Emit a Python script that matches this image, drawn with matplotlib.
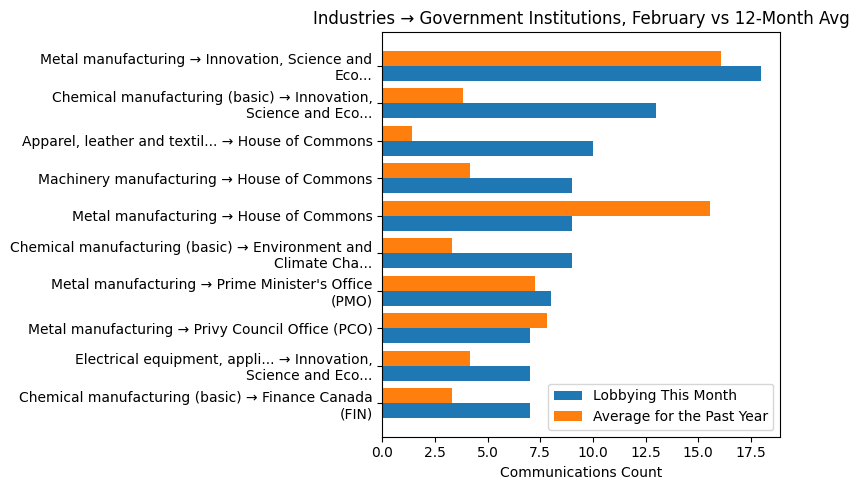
import numpy as np
import matplotlib
matplotlib.use("Agg")
import matplotlib.pyplot as plt

labels = [
    "Metal manufacturing \u2192 Innovation, Science and\nEco...",
    "Chemical manufacturing (basic) \u2192 Innovation,\nScience and Eco...",
    "Apparel, leather and textil... \u2192 House of Commons",
    "Machinery manufacturing \u2192 House of Commons",
    "Metal manufacturing \u2192 House of Commons",
    "Chemical manufacturing (basic) \u2192 Environment and\nClimate Cha...",
    "Metal manufacturing \u2192 Prime Minister's Office\n(PMO)",
    "Metal manufacturing \u2192 Privy Council Office (PCO)",
    "Electrical equipment, appli... \u2192 Innovation,\nScience and Eco...",
    "Chemical manufacturing (basic) \u2192 Finance Canada\n(FIN)",
]
this_month = [18, 13, 10, 9, 9, 9, 8, 7, 7, 7]
past_year_avg = [16.08, 3.83, 1.42, 4.17, 15.58, 3.33, 7.25, 7.83, 4.17, 3.33]

y = np.arange(len(labels))
h = 0.4

fig, ax = plt.subplots(figsize=(8.59, 4.9), dpi=100)
ax.barh(y + h / 2, this_month, height=h, label="Lobbying This Month")
ax.barh(y - h / 2, past_year_avg, height=h, label="Average for the Past Year")
ax.set_yticks(y)
ax.set_yticklabels(labels)
ax.invert_yaxis()
ax.set_xlabel("Communications Count")
ax.set_title("Industries \u2192 Government Institutions, February vs 12-Month Avg")
ax.legend(loc="lower right")
fig.subplots_adjust(left=0.445, right=0.9084, top=0.934, bottom=0.1088)
fig.savefig("out.png")
